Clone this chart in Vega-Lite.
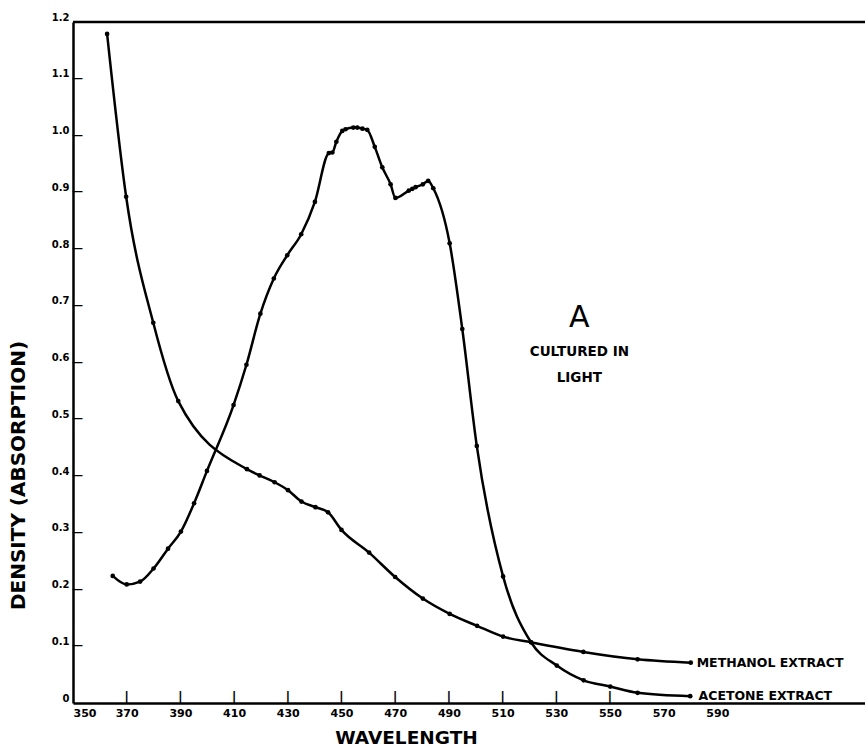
{
  "$schema": "https://vega.github.io/schema/vega-lite/v6.json",
  "width": 792,
  "height": 681,
  "padding": {"left": 73, "top": 22, "right": 0, "bottom": 48},
  "autosize": {"type": "none"},
  "background": "white",
  "config": {
    "view": {"stroke": null},
    "font": "DejaVu Sans",
    "axis": {"domainColor": "black", "domainWidth": 2.5, "grid": false, "ticks": false, "labelColor": "black", "titleColor": "black", "labelFont": "DejaVu Sans", "titleFont": "DejaVu Sans", "labelFontWeight": "bold", "titleFontWeight": "bold"}
  },
  "datasets": {
    "curves": [
      {"wl": 362.7, "val": 1.179, "extract": "Methanol"},
      {"wl": 369.8, "val": 0.892, "extract": "Methanol"},
      {"wl": 379.9, "val": 0.670, "extract": "Methanol"},
      {"wl": 389.2, "val": 0.532, "extract": "Methanol"},
      {"wl": 414.8, "val": 0.412, "extract": "Methanol"},
      {"wl": 419.5, "val": 0.401, "extract": "Methanol"},
      {"wl": 425.1, "val": 0.389, "extract": "Methanol"},
      {"wl": 430.1, "val": 0.375, "extract": "Methanol"},
      {"wl": 435.1, "val": 0.355, "extract": "Methanol"},
      {"wl": 440.3, "val": 0.345, "extract": "Methanol"},
      {"wl": 445.0, "val": 0.336, "extract": "Methanol"},
      {"wl": 450.0, "val": 0.305, "extract": "Methanol"},
      {"wl": 460.3, "val": 0.265, "extract": "Methanol"},
      {"wl": 470.0, "val": 0.222, "extract": "Methanol"},
      {"wl": 480.3, "val": 0.184, "extract": "Methanol"},
      {"wl": 490.3, "val": 0.157, "extract": "Methanol"},
      {"wl": 500.5, "val": 0.136, "extract": "Methanol"},
      {"wl": 510.2, "val": 0.117, "extract": "Methanol"},
      {"wl": 520.6, "val": 0.107, "extract": "Methanol"},
      {"wl": 540.1, "val": 0.090, "extract": "Methanol"},
      {"wl": 560.3, "val": 0.077, "extract": "Methanol"},
      {"wl": 580.1, "val": 0.071, "extract": "Methanol"},
      {"wl": 364.8, "val": 0.224, "extract": "Acetone"},
      {"wl": 370.0, "val": 0.209, "extract": "Acetone"},
      {"wl": 375.0, "val": 0.214, "extract": "Acetone"},
      {"wl": 380.0, "val": 0.237, "extract": "Acetone"},
      {"wl": 385.4, "val": 0.272, "extract": "Acetone"},
      {"wl": 390.2, "val": 0.302, "extract": "Acetone"},
      {"wl": 395.1, "val": 0.352, "extract": "Acetone"},
      {"wl": 399.9, "val": 0.409, "extract": "Acetone"},
      {"wl": 409.8, "val": 0.525, "extract": "Acetone"},
      {"wl": 414.6, "val": 0.596, "extract": "Acetone"},
      {"wl": 419.8, "val": 0.686, "extract": "Acetone"},
      {"wl": 424.8, "val": 0.748, "extract": "Acetone"},
      {"wl": 429.8, "val": 0.789, "extract": "Acetone"},
      {"wl": 435.0, "val": 0.826, "extract": "Acetone"},
      {"wl": 440.1, "val": 0.883, "extract": "Acetone"},
      {"wl": 445.3, "val": 0.969, "extract": "Acetone"},
      {"wl": 446.6, "val": 0.970, "extract": "Acetone"},
      {"wl": 448.1, "val": 0.989, "extract": "Acetone"},
      {"wl": 450.3, "val": 1.008, "extract": "Acetone"},
      {"wl": 451.5, "val": 1.011, "extract": "Acetone"},
      {"wl": 454.4, "val": 1.014, "extract": "Acetone"},
      {"wl": 455.9, "val": 1.014, "extract": "Acetone"},
      {"wl": 457.8, "val": 1.012, "extract": "Acetone"},
      {"wl": 459.6, "val": 1.010, "extract": "Acetone"},
      {"wl": 462.4, "val": 0.980, "extract": "Acetone"},
      {"wl": 465.2, "val": 0.944, "extract": "Acetone"},
      {"wl": 468.3, "val": 0.914, "extract": "Acetone"},
      {"wl": 470.1, "val": 0.890, "extract": "Acetone"},
      {"wl": 475.1, "val": 0.903, "extract": "Acetone"},
      {"wl": 476.4, "val": 0.906, "extract": "Acetone"},
      {"wl": 477.6, "val": 0.909, "extract": "Acetone"},
      {"wl": 480.3, "val": 0.914, "extract": "Acetone"},
      {"wl": 482.3, "val": 0.920, "extract": "Acetone"},
      {"wl": 484.2, "val": 0.907, "extract": "Acetone"},
      {"wl": 490.3, "val": 0.810, "extract": "Acetone"},
      {"wl": 495.0, "val": 0.659, "extract": "Acetone"},
      {"wl": 500.4, "val": 0.453, "extract": "Acetone"},
      {"wl": 510.2, "val": 0.223, "extract": "Acetone"},
      {"wl": 520.6, "val": 0.107, "extract": "Acetone"},
      {"wl": 530.2, "val": 0.066, "extract": "Acetone"},
      {"wl": 540.2, "val": 0.040, "extract": "Acetone"},
      {"wl": 550.1, "val": 0.029, "extract": "Acetone"},
      {"wl": 560.3, "val": 0.018, "extract": "Acetone"},
      {"wl": 579.9, "val": 0.012, "extract": "Acetone"}
    ]
  },
  "resolve": {"axis": {"x": "independent", "y": "independent"}},
  "layer": [
    {
      "data": {"name": "curves"},
      "mark": {"type": "line", "color": "black", "strokeWidth": 2.5, "interpolate": "monotone", "point": {"filled": true, "color": "black", "size": 22}},
      "encoding": {
        "x": {
          "field": "wl", "type": "quantitative",
          "scale": {"domain": [350, 645], "nice": false, "zero": false},
          "axis": {
            "orient": "bottom",
            "values": [350, 370, 390, 410, 430, 450, 470, 490, 510, 530, 550, 570, 590],
            "labelPadding": 4, "labelFontSize": 11,
            "title": "WAVELENGTH", "titleFontSize": 18.5, "titleX": 333, "titleY": 34.5, "titleBaseline": "middle", "titleAnchor": "middle"
          }
        },
        "y": {
          "field": "val", "type": "quantitative",
          "scale": {"domain": [0, 1.2], "nice": false},
          "axis": {
            "orient": "left",
            "values": [0, 0.1, 0.2, 0.3, 0.4, 0.5, 0.6, 0.7, 0.8, 0.9, 1.0, 1.1, 1.2],
            "labelExpr": "datum.value == 0 ? '0' : format(datum.value, '.1f')",
            "labelPadding": 4, "labelFontSize": 10, "labelBaseline": "bottom",
            "title": "DENSITY (ABSORPTION)", "titleFontSize": 20, "titleAngle": 270, "titleX": -55, "titleY": 453, "titleBaseline": "middle", "titleAnchor": "middle"
          }
        },
        "detail": {"field": "extract"}
      }
    },
    {
      "data": {"values": [{}]},
      "mark": {"type": "rule", "color": "black", "strokeWidth": 2.5},
      "encoding": {"y": {"datum": 1.2, "type": "quantitative", "axis": null}}
    },
    {
      "data": {"values": [{"wl": 370}, {"wl": 390}, {"wl": 410}, {"wl": 430}, {"wl": 450}, {"wl": 470}, {"wl": 490}, {"wl": 510}, {"wl": 530}, {"wl": 550}]},
      "mark": {"type": "text", "text": "|", "fontSize": 13, "fontWeight": "bold", "font": "DejaVu Sans", "color": "black", "align": "center", "baseline": "bottom", "dy": 1},
      "encoding": {
        "x": {"field": "wl", "type": "quantitative", "axis": null},
        "y": {"datum": 0.0001, "type": "quantitative", "axis": null}
      }
    },
    {
      "data": {"values": [{"val": 0.1}, {"val": 0.2}, {"val": 0.3}, {"val": 0.4}, {"val": 0.5}, {"val": 0.6}, {"val": 0.7}, {"val": 0.8}, {"val": 0.9}, {"val": 1.0}, {"val": 1.1}]},
      "mark": {"type": "text", "text": "—", "fontSize": 11, "fontWeight": "bold", "font": "DejaVu Sans", "color": "black", "align": "left", "baseline": "middle", "dx": -1},
      "encoding": {
        "y": {"field": "val", "type": "quantitative", "axis": null},
        "x": {"datum": 350.0001, "type": "quantitative", "axis": null}
      }
    },
    {
      "data": {"values": [{}]},
      "mark": {"type": "text", "text": "A", "fontSize": 30, "font": "DejaVu Sans", "color": "black", "align": "center", "baseline": "middle"},
      "encoding": {"x": {"datum": 538.6, "type": "quantitative", "axis": null}, "y": {"datum": 0.678, "type": "quantitative", "axis": null}}
    },
    {
      "data": {"values": [{}]},
      "mark": {"type": "text", "text": "CULTURED IN", "fontSize": 13.5, "fontWeight": "bold", "font": "DejaVu Sans", "color": "black", "align": "center", "baseline": "middle"},
      "encoding": {"x": {"datum": 538.6, "type": "quantitative", "axis": null}, "y": {"datum": 0.618, "type": "quantitative", "axis": null}}
    },
    {
      "data": {"values": [{}]},
      "mark": {"type": "text", "text": "LIGHT", "fontSize": 13.5, "fontWeight": "bold", "font": "DejaVu Sans", "color": "black", "align": "center", "baseline": "middle"},
      "encoding": {"x": {"datum": 538.6, "type": "quantitative", "axis": null}, "y": {"datum": 0.573, "type": "quantitative", "axis": null}}
    },
    {
      "data": {"values": [{}]},
      "mark": {"type": "text", "text": "METHANOL  EXTRACT", "fontSize": 12.5, "fontWeight": "bold", "font": "DejaVu Sans", "color": "black", "align": "left", "baseline": "middle"},
      "encoding": {"x": {"datum": 582.3, "type": "quantitative", "axis": null}, "y": {"datum": 0.071, "type": "quantitative", "axis": null}}
    },
    {
      "data": {"values": [{}]},
      "mark": {"type": "text", "text": "ACETONE  EXTRACT", "fontSize": 12.5, "fontWeight": "bold", "font": "DejaVu Sans", "color": "black", "align": "left", "baseline": "middle"},
      "encoding": {"x": {"datum": 583.0, "type": "quantitative", "axis": null}, "y": {"datum": 0.013, "type": "quantitative", "axis": null}}
    }
  ]
}
